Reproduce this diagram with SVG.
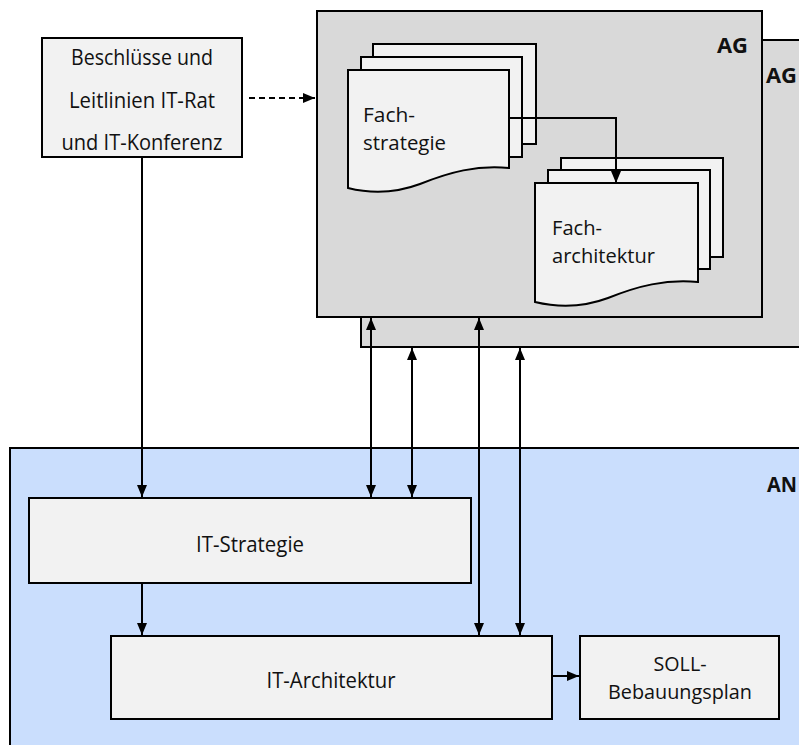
<svg xmlns="http://www.w3.org/2000/svg" width="799" height="745" viewBox="0 0 799 745">
  <style>
    .frame { stroke: #000; stroke-width: 2; }
    .ag { fill: #d9d9d9; }
    .an { fill: #cadefd; }
    .box { fill: #f2f2f2; stroke: #000; stroke-width: 2; }
    .lbl { font-family: "Open Sans", "Noto Sans", "Liberation Sans", sans-serif; font-size: 22px; fill: #111; }
    .two { font-size: 20.5px; }
    .mid { text-anchor: middle; }
    .tag { font-family: "Open Sans", "Noto Sans", "Liberation Sans", sans-serif; font-size: 21px; font-weight: bold; fill: #111; }
    .conn { fill: none; stroke: #000; stroke-width: 2; }
    .dash { stroke-dasharray: 6 4; }
  </style>
  <defs>
    <marker id="arr" viewBox="0 0 12 10" refX="12" refY="5" markerWidth="12" markerHeight="10" markerUnits="userSpaceOnUse" orient="auto-start-reverse">
      <path d="M0,0 L12,5 L0,10 Z" fill="#000"/>
    </marker>
  </defs>

  <rect width="799" height="745" fill="#fff"/>

  <!-- Client organisation (AN) area -->
  <g id="an">
    <rect class="an frame" x="10" y="448" width="800" height="310"/>
    <text class="tag" x="767" y="492" textLength="30" lengthAdjust="spacingAndGlyphs">AN</text>
  </g>

  <!-- Stacked AG frames -->
  <g id="ag-back">
    <rect class="ag frame" x="361" y="40" width="460" height="307"/>
    <text class="tag" x="766" y="83" textLength="31" lengthAdjust="spacingAndGlyphs">AG</text>
  </g>
  <g id="ag-front">
    <rect class="ag frame" x="317" y="11" width="445" height="306"/>
    <text class="tag" x="717" y="53" textLength="31" lengthAdjust="spacingAndGlyphs">AG</text>
  </g>

  <!-- Decisions box -->
  <g id="beschluesse">
    <rect class="box" x="42" y="38" width="200" height="119"/>
    <text class="lbl mid" x="142" y="65" textLength="142" lengthAdjust="spacingAndGlyphs">Beschlüsse und</text>
    <text class="lbl mid" x="142" y="108" textLength="146" lengthAdjust="spacingAndGlyphs">Leitlinien IT-Rat</text>
    <text class="lbl mid" x="142" y="150" textLength="161" lengthAdjust="spacingAndGlyphs">und IT-Konferenz</text>
  </g>

  <!-- Document stack: Fachstrategie -->
  <g id="fachstrategie">
    <rect class="box" x="373" y="44" width="163" height="100"/>
    <rect class="box" x="361" y="57" width="161" height="100"/>
    <path class="box" d="M348,70 H509 V168 C476,165 450,172 420,184 C396,193 372,194 348,188 Z"/>
    <text class="lbl two" x="363" y="122" textLength="52" lengthAdjust="spacingAndGlyphs">Fach-</text>
    <text class="lbl two" x="363" y="150" textLength="83" lengthAdjust="spacingAndGlyphs">strategie</text>
  </g>

  <!-- Document stack: Facharchitektur -->
  <g id="facharchitektur">
    <rect class="box" x="561" y="158" width="162" height="99"/>
    <rect class="box" x="548" y="170" width="162" height="99"/>
    <path class="box" d="M535,183 H698 V282 C665,279 638,286 608,298 C584,307 560,308 535,302 Z"/>
    <text class="lbl two" x="552" y="235" textLength="50" lengthAdjust="spacingAndGlyphs">Fach-</text>
    <text class="lbl two" x="552" y="263" textLength="103" lengthAdjust="spacingAndGlyphs">architektur</text>
  </g>

  <!-- AN boxes -->
  <g id="it-strategie">
    <rect class="box" x="29" y="498" width="442" height="85"/>
    <text class="lbl mid" x="250" y="552" textLength="108" lengthAdjust="spacingAndGlyphs">IT-Strategie</text>
  </g>
  <g id="it-architektur">
    <rect class="box" x="111" y="636" width="441" height="83"/>
    <text class="lbl mid" x="331" y="688" textLength="129" lengthAdjust="spacingAndGlyphs">IT-Architektur</text>
  </g>
  <g id="soll-bebauungsplan">
    <rect class="box" x="580" y="636" width="199" height="83"/>
    <text class="lbl two mid" x="680" y="671" textLength="53" lengthAdjust="spacingAndGlyphs">SOLL-</text>
    <text class="lbl two mid" x="680" y="699" textLength="144" lengthAdjust="spacingAndGlyphs">Bebauungsplan</text>
  </g>

  <!-- Connectors -->
  <g id="connectors">
    <path class="conn dash" d="M249,98 H315" marker-end="url(#arr)"/>
    <path class="conn" d="M509,118 H616 V183" marker-end="url(#arr)"/>
    <path class="conn" d="M142,157 V497" marker-end="url(#arr)"/>
    <path class="conn" d="M142,583 V635" marker-end="url(#arr)"/>
    <path class="conn" d="M371,318 V497" marker-start="url(#arr)" marker-end="url(#arr)"/>
    <path class="conn" d="M412,348 V497" marker-start="url(#arr)" marker-end="url(#arr)"/>
    <path class="conn" d="M479,318 V635" marker-start="url(#arr)" marker-end="url(#arr)"/>
    <path class="conn" d="M520,348 V635" marker-start="url(#arr)" marker-end="url(#arr)"/>
    <path class="conn" d="M552,676 H579" marker-end="url(#arr)"/>
  </g>
</svg>
